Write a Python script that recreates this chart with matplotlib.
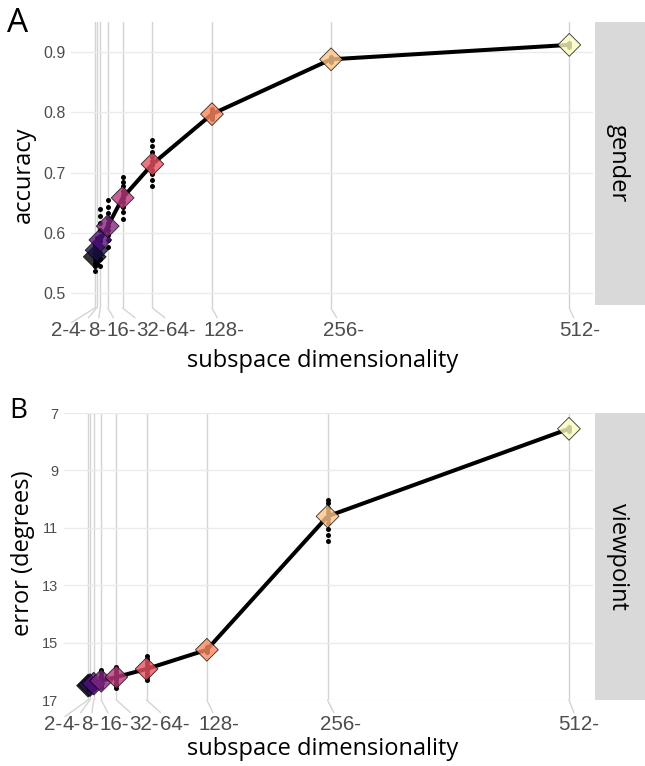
import matplotlib
matplotlib.use('Agg')
import matplotlib.pyplot as plt
import numpy as np

# --- data ------------------------------------------------------------------
dims = [2, 4, 8, 16, 32, 64, 128, 256, 512]
dim_labels = [f"{d}-" for d in dims]

gender_mean = [0.560, 0.571, 0.588, 0.611, 0.658, 0.714, 0.797, 0.888, 0.912]
gender_runs = [
    [0.537, 0.544, 0.550, 0.556, 0.561, 0.565, 0.569, 0.574, 0.579, 0.584],
    [0.548, 0.555, 0.561, 0.566, 0.570, 0.574, 0.578, 0.583, 0.588, 0.591],
    [0.545, 0.556, 0.567, 0.578, 0.586, 0.595, 0.605, 0.617, 0.628, 0.640],
    [0.577, 0.588, 0.597, 0.604, 0.611, 0.617, 0.625, 0.633, 0.643, 0.654],
    [0.622, 0.634, 0.643, 0.651, 0.657, 0.663, 0.670, 0.677, 0.685, 0.692],
    [0.678, 0.688, 0.697, 0.705, 0.712, 0.719, 0.726, 0.734, 0.744, 0.754],
    [0.789, 0.792, 0.794, 0.796, 0.797, 0.798, 0.799, 0.801, 0.803, 0.805],
    [0.884, 0.885, 0.886, 0.887, 0.888, 0.888, 0.889, 0.890, 0.891, 0.892],
    [0.909, 0.910, 0.911, 0.911, 0.912, 0.912, 0.913, 0.913, 0.914, 0.915],
]

view_mean = [16.50, 16.48, 16.43, 16.33, 16.20, 15.92, 15.25, 10.60, 7.55]
view_runs = [
    [16.38, 16.42, 16.46, 16.49, 16.51, 16.53, 16.55, 16.57, 16.60, 16.62],
    [16.36, 16.40, 16.44, 16.47, 16.49, 16.51, 16.53, 16.55, 16.57, 16.60],
    [16.28, 16.33, 16.38, 16.42, 16.44, 16.46, 16.49, 16.52, 16.55, 16.58],
    [15.95, 16.05, 16.15, 16.25, 16.32, 16.38, 16.44, 16.49, 16.53, 16.56],
    [15.84, 15.93, 16.02, 16.10, 16.18, 16.25, 16.32, 16.40, 16.49, 16.58],
    [15.48, 15.58, 15.68, 15.78, 15.88, 15.97, 16.05, 16.13, 16.21, 16.30],
    [15.17, 15.19, 15.21, 15.23, 15.25, 15.26, 15.27, 15.29, 15.31, 15.33],
    [10.03, 10.15, 10.30, 10.45, 10.58, 10.70, 10.85, 11.05, 11.25, 11.47],
    [7.49, 7.51, 7.52, 7.54, 7.55, 7.55, 7.56, 7.57, 7.59, 7.61],
]

# label nudges (px) used to keep the tick labels from colliding
label_nudge_px = [-35, -18.5, -3.5, 13, 28, 28, 12, 12.5, 10]

TICK_FONT = 'Liberation Sans'
TITLE_FONT = 'Open Sans'
GREY_TXT = '#4D4D4D'

colors = plt.get_cmap('magma')(np.linspace(0, 1, len(dims)))

fig = plt.figure(figsize=(6.45, 7.66), dpi=100)
W, H = 645, 766


def px_axes(l, t, r, b):
    return fig.add_axes([l / W, 1 - b / H, (r - l) / W, (b - t) / H])


def draw_panel(ax, runs, means, ylim, yticks, ytick_size, label_drop_px):
    for d, vals in zip(dims, runs):
        ax.scatter([d] * len(vals), vals, s=13, color='black', zorder=2, linewidths=0)
    ax.plot(dims, means, color='black', lw=2.9, zorder=3, solid_capstyle='round')
    ax.scatter(dims, means, marker='D', s=135, c=colors, edgecolors='black',
               linewidths=0.6, alpha=0.8, zorder=4)

    ax.set_xlim(2 - 0.05 * 510, 512 + 0.05 * 510)
    ax.set_ylim(*ylim)
    ax.set_xticks(dims)
    ax.set_xticklabels([])
    ax.set_yticks(yticks)
    ax.set_yticklabels([f"{v:g}" for v in yticks], fontsize=ytick_size,
                       family=TICK_FONT, color=GREY_TXT)
    ax.tick_params(length=0, pad=4)
    ax.grid(axis='y', color='#EBEBEB', lw=1.0)
    ax.grid(axis='x', color='#D4D4D4', lw=1.0)
    ax.set_axisbelow(True)
    for s in ax.spines.values():
        s.set_visible(False)

    # repelled tick labels with connector segments
    for d, lab, nud in zip(dims, dim_labels, label_nudge_px):
        ax.annotate(lab, xy=(d, 0), xycoords=('data', 'axes fraction'),
                    xytext=(nud * 0.72, -label_drop_px * 0.72), textcoords='offset points',
                    ha='center', va='center', fontsize=14.8, family=TICK_FONT,
                    color=GREY_TXT, annotation_clip=False,
                    arrowprops=dict(arrowstyle='-', color='#D4D4D4', lw=1.0,
                                    shrinkA=0, shrinkB=0))


def draw_strip(l, t, r, b, text):
    sax = px_axes(l, t, r, b)
    sax.set_facecolor('#D9D9D9')
    sax.set_xticks([])
    sax.set_yticks([])
    for s in sax.spines.values():
        s.set_visible(False)
    sax.text(0.45, 0.5, text, rotation=-90, ha='center', va='center',
             fontsize=17, family=TITLE_FONT, color='black', transform=sax.transAxes)


# panel A: gender
axA = px_axes(71, 22, 593, 308)
draw_panel(axA, gender_runs, gender_mean, (0.475, 0.95),
           [0.5, 0.6, 0.7, 0.8, 0.9], 11.5, 22)
draw_strip(595, 22, 645, 305, 'gender')

# panel B: viewpoint (reversed error axis)
axB = px_axes(64, 413, 593, 700)
draw_panel(axB, view_runs, view_mean, (17, 7),
           [7, 9, 11, 13, 15, 17], 10.5, 25)
draw_strip(595, 413, 645, 700, 'viewpoint')

# axis titles and panel letters
fig.text(24 / W, 1 - 175 / H, 'accuracy', rotation=90, ha='center', va='center',
         fontsize=17, family=TITLE_FONT)
fig.text(23 / W, 1 - 553 / H, 'error (degrees)', rotation=90, ha='center', va='center',
         fontsize=17, family=TITLE_FONT)
fig.text(323 / W, 1 - 361 / H, 'subspace dimensionality', ha='center', va='center',
         fontsize=17, family=TITLE_FONT)
fig.text(323 / W, 1 - 749 / H, 'subspace dimensionality', ha='center', va='center',
         fontsize=17, family=TITLE_FONT)
fig.text(7 / W, 1 - 24 / H, 'A', ha='left', va='center', fontsize=24, family=TITLE_FONT)
fig.text(9 / W, 1 - 411 / H, 'B', ha='left', va='center', fontsize=20, family=TITLE_FONT)

fig.savefig('out.png', dpi=100)
